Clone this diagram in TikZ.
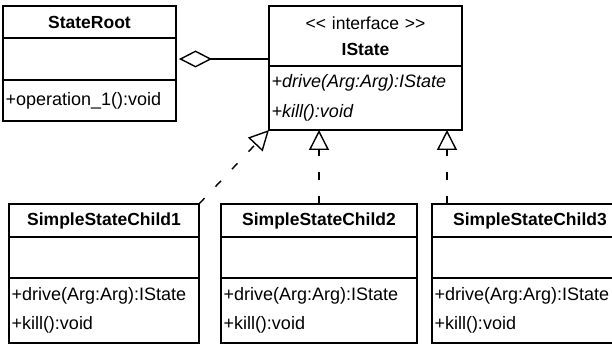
\documentclass[tikz,border=0pt]{standalone}
\usepackage{fontspec}
\setmainfont{Liberation Sans}
\usetikzlibrary{positioning, arrows.meta}

\tikzset{
  umlname/.style={draw, line width=1.4pt, minimum height=#1, inner xsep=2.5pt, inner ysep=0pt,
                  outer sep=0pt, align=center, font=\fontsize{17.5}{25}\selectfont\bfseries},
  umlpart/.style={draw, line width=1.4pt, minimum height=#1, inner xsep=2.5pt, inner ysep=0pt,
                  outer sep=0pt, align=left, font=\fontsize{18}{29}\selectfont},
  aggr/.style={line width=1.4pt, shorten <=3pt,
               {Diamond[open, length=33pt, width=17pt, line width=1.4pt]}-},
  realize/.style={line width=1.4pt, dash pattern=on 8pt off 16pt,
                  -{Triangle[open, length=20pt, width=20pt, line width=1.4pt]}},
}

\begin{document}
\begin{tikzpicture}[x=1pt, y=-1pt]
  \clip (0,0) rectangle (612,347);

  % the root class
  \node[umlname=32pt, text width=168pt, anchor=north west] (root) at (3,6) {StateRoot};
  \node[umlpart=42pt, text width=168pt, below=0pt of root] (rootattr) {};
  \node[umlpart=41pt, text width=168pt, below=0pt of rootattr] (rootops) {+operation\_1():void};

  % the interface
  \node[umlname=60pt, text width=188pt, anchor=north west] (istname) at (269,6)
    {{\mdseries <{}< interface >{}>}\\[1pt]IState};
  \node[umlpart=64pt, text width=188pt, below=0pt of istname,
        font=\fontsize{18}{30}\selectfont\itshape] (istops)
    {+drive(Arg:Arg):IState\\+kill():void};

  % the children
  \node[umlname=33pt, text width=185pt, anchor=north west] (cone) at (9,204) {SimpleStateChild1};
  \node[umlpart=41pt, text width=185pt, below=0pt of cone] (coneattr) {};
  \node[umlpart=65pt, text width=185pt, below=0pt of coneattr] (coneops)
    {+drive(Arg:Arg):IState\\+kill():void};

  \node[umlname=33pt, text width=191pt, anchor=north west] (ctwo) at (221,204) {SimpleStateChild2};
  \node[umlpart=41pt, text width=191pt, below=0pt of ctwo] (ctwoattr) {};
  \node[umlpart=65pt, text width=191pt, below=0pt of ctwoattr] (ctwoops)
    {+drive(Arg:Arg):IState\\+kill():void};

  \node[umlname=33pt, text width=191pt, anchor=north west] (cthree) at (432,204) {SimpleStateChild3};
  \node[umlpart=41pt, text width=191pt, below=0pt of cthree] (cthreeattr) {};
  \node[umlpart=65pt, text width=191pt, below=0pt of cthreeattr] (cthreeops)
    {+drive(Arg:Arg):IState\\+kill():void};

  % relations
  \draw[aggr] (rootattr.east) -- (rootattr.east -| istname.west);
  \draw[realize] (cone.north east) -- (istops.south west);
  \draw[realize] (ctwo.north) -- (ctwo.north |- istops.south);
  \draw[realize] ([xshift=15pt]cthree.north west) coordinate (cthreetop) -- (cthreetop |- istops.south);
\end{tikzpicture}
\end{document}
